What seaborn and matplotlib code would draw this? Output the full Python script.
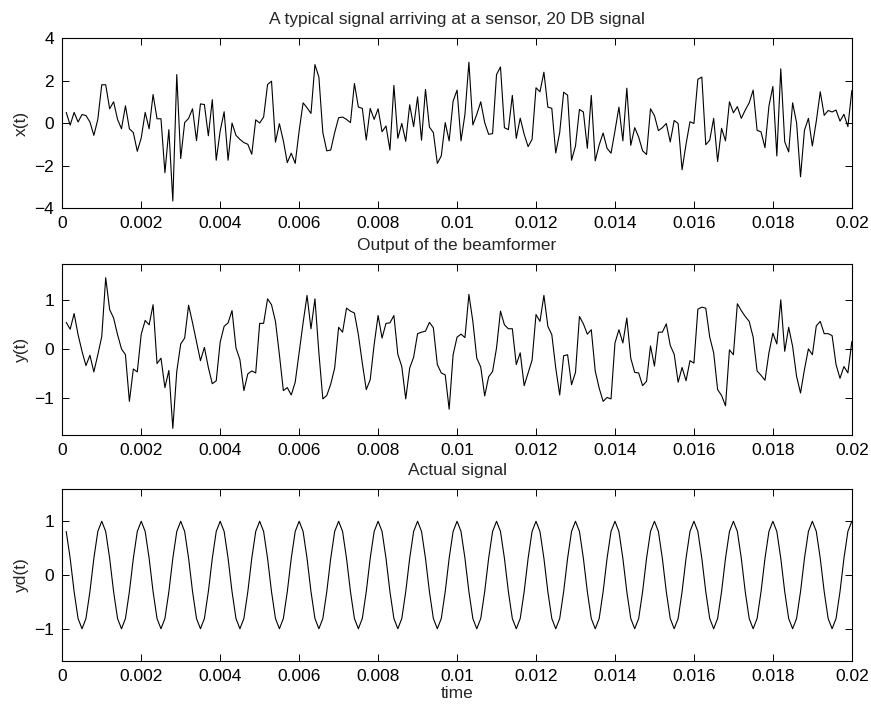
import numpy as np
import matplotlib
matplotlib.use("Agg")
import matplotlib.pyplot as plt
import seaborn as sns
from matplotlib.ticker import FuncFormatter

# sample times (200 samples, 0.1 ms apart)
t = np.linspace(0.0001, 0.02, 200)

# signal arriving at the sensor, 20 DB
x_sig = [
    0.5, -0.1, 0.5, 0.05, 0.4, 0.35, 0.05, -0.58, 0.17, 1.8,
    1.8, 0.67, 1.0, 0.17, -0.27, 0.81, -0.27, -0.45, -1.33, -0.7,
    0.5, -0.27, 1.34, 0.2, 0.2, -2.34, -0.31, -3.67, 2.28, -1.67,
    0.02, 0.22, 0.67, -0.83, 0.9, 0.87, -0.6, 1.1, -1.75, -0.37,
    0.53, -1.75, 0.0, -0.58, -0.77, -0.92, -1.0, -1.47, 0.15, 0.0,
    0.28, 1.81, 1.97, -0.9, -0.03, -0.84, -1.86, -1.42, -1.9, -0.37,
    0.95, 0.72, 0.45, 2.75, 2.16, -0.45, -1.31, -1.27, -0.45, 0.25,
    0.28, 0.17, 0.02, 1.86, 0.75, 0.69, -0.8, 0.69, 0.17, 0.67,
    -0.41, -0.14, -1.27, 1.77, -0.72, -0.02, -0.86, 0.86, -0.17, 1.23,
    -0.81, 1.58, -0.19, -0.45, -1.9, -1.55, 0.02, -0.84, 1.03, 1.55,
    -0.84, 0.41, 2.86, -0.09, 0.41, 1.0, 0.02, -0.53, -0.5, 2.28,
    2.64, -0.22, -0.31, 1.3, -0.72, 0.23, -0.53, -1.11, -0.77, 1.66,
    1.47, 2.39, 0.75, 0.69, -1.41, -0.45, 1.45, 1.31, -1.75, -1.08,
    0.64, 0.52, -1.19, 1.3, -1.78, -1.03, -0.47, -1.19, -1.42, -0.37,
    0.75, -0.84, 1.64, -1.05, -0.22, -0.66, -1.31, -1.48, 0.67, 0.35,
    -0.36, -0.22, -0.02, -0.89, 0.12, -0.02, -2.2, -1.0, 0.06, -0.02,
    2.06, 2.16, -1.02, -0.81, 0.22, -1.81, -0.25, -0.84, 1.0, 0.48,
    0.77, 0.22, 0.61, 0.95, 1.55, -0.34, -0.42, -1.16, 0.8, 1.72,
    -1.55, 2.55, -0.88, -1.36, 0.95, 0.02, -2.53, -0.34, 0.22, -1.08,
    0.09, 1.47, 0.36, 0.59, 0.52, 0.61, 0.09, 0.41, -0.17, 1.53,
]

# output of the beamformer
y_out = [
    0.55, 0.41, 0.73, 0.3, -0.04, -0.33, -0.12, -0.46, -0.11, 0.26,
    1.46, 0.81, 0.64, 0.3, 0.01, -0.11, -1.06, -0.4, -0.46, 0.31,
    0.59, 0.5, 0.91, -0.29, -0.18, -0.78, -0.43, -1.61, -0.45, 0.11,
    0.23, 0.9, 0.54, 0.15, -0.23, 0.04, -0.37, -0.7, -0.64, 0.15,
    0.47, 0.54, 0.79, 0.03, -0.21, -0.84, -0.5, -0.44, -0.48, 0.53,
    0.53, 1.03, 0.91, 0.57, -0.11, -0.84, -0.78, -0.93, -0.67, -0.07,
    0.54, 1.1, 0.42, 1.03, -0.07, -1.01, -0.94, -0.71, -0.38, 0.45,
    0.35, 0.84, 0.78, 0.74, 0.3, -0.28, -0.82, -0.62, 0.1, 0.69,
    0.23, 0.53, 0.54, 0.69, -0.1, -0.35, -1.01, -0.38, -0.16, 0.32,
    0.35, 0.37, 0.55, 0.44, -0.31, -0.48, -0.52, -1.22, -0.11, 0.25,
    0.31, 0.24, 1.12, 0.57, -0.18, -0.36, -0.95, -0.56, -0.45, 0.03,
    0.78, 0.5, 0.42, 0.42, -0.31, -0.07, -0.74, -0.48, -0.22, 0.71,
    0.57, 1.1, 0.47, 0.3, -0.38, -0.93, -0.13, -0.11, -0.72, -0.47,
    0.67, 0.52, 0.31, 0.4, -0.44, -0.79, -1.06, -0.98, -1.01, 0.13,
    0.4, 0.13, 0.64, -0.18, -0.47, -0.48, -0.74, -0.65, 0.07, -0.34,
    0.35, 0.35, 0.52, 0.08, -0.1, -0.67, -0.37, -0.64, -0.23, -0.28,
    0.82, 0.86, 0.84, 0.25, -0.07, -0.82, -0.94, -1.15, -0.01, -0.11,
    0.93, 0.79, 0.67, 0.57, 0.25, -0.44, -0.53, -0.63, -0.07, 0.33,
    0.11, 1.01, -0.04, 0.45, 0.06, -0.55, -0.89, -0.41, 0.01, -0.11,
    0.48, 0.57, 0.32, 0.32, 0.28, -0.31, -0.59, -0.35, -0.48, 0.16,
]

# actual (desired) signal
yd_sig = [
    0.81, 0.31, -0.31, -0.81, -1.0, -0.81, -0.31, 0.31, 0.81, 1.0,
    0.81, 0.31, -0.31, -0.81, -1.0, -0.81, -0.31, 0.31, 0.81, 1.0,
    0.81, 0.31, -0.31, -0.81, -1.0, -0.81, -0.31, 0.31, 0.81, 1.0,
    0.81, 0.31, -0.31, -0.81, -1.0, -0.81, -0.31, 0.31, 0.81, 1.0,
    0.81, 0.31, -0.31, -0.81, -1.0, -0.81, -0.31, 0.31, 0.81, 1.0,
    0.81, 0.31, -0.31, -0.81, -1.0, -0.81, -0.31, 0.31, 0.81, 1.0,
    0.81, 0.31, -0.31, -0.81, -1.0, -0.81, -0.31, 0.31, 0.81, 1.0,
    0.81, 0.31, -0.31, -0.81, -1.0, -0.81, -0.31, 0.31, 0.81, 1.0,
    0.81, 0.31, -0.31, -0.81, -1.0, -0.81, -0.31, 0.31, 0.81, 1.0,
    0.81, 0.31, -0.31, -0.81, -1.0, -0.81, -0.31, 0.31, 0.81, 1.0,
    0.81, 0.31, -0.31, -0.81, -1.0, -0.81, -0.31, 0.31, 0.81, 1.0,
    0.81, 0.31, -0.31, -0.81, -1.0, -0.81, -0.31, 0.31, 0.81, 1.0,
    0.81, 0.31, -0.31, -0.81, -1.0, -0.81, -0.31, 0.31, 0.81, 1.0,
    0.81, 0.31, -0.31, -0.81, -1.0, -0.81, -0.31, 0.31, 0.81, 1.0,
    0.81, 0.31, -0.31, -0.81, -1.0, -0.81, -0.31, 0.31, 0.81, 1.0,
    0.81, 0.31, -0.31, -0.81, -1.0, -0.81, -0.31, 0.31, 0.81, 1.0,
    0.81, 0.31, -0.31, -0.81, -1.0, -0.81, -0.31, 0.31, 0.81, 1.0,
    0.81, 0.31, -0.31, -0.81, -1.0, -0.81, -0.31, 0.31, 0.81, 1.0,
    0.81, 0.31, -0.31, -0.81, -1.0, -0.81, -0.31, 0.31, 0.81, 1.0,
    0.81, 0.31, -0.31, -0.81, -1.0, -0.81, -0.31, 0.31, 0.81, 1.0,
]

titles = ["A typical signal arriving at a sensor, 20 DB signal",
          "Output of the beamformer",
          "Actual signal"]
ylabels = ["x(t)", "y(t)", "yd(t)"]
yticks = [[-4, -2, 0, 2, 4], [-1, 0, 1], [-1, 0, 1]]
ylims = [(-4, 4), (-1.74, 1.74), (-1.6, 1.6)]
xticks = np.arange(0, 0.0201, 0.002)

sns.set_style("ticks")
plt.rcParams["font.family"] = ["Liberation Sans", "DejaVu Sans"]
fs = 12.5

fig = plt.figure(figsize=(8.71, 7.04), dpi=100)
positions = [
    [0.0715, 0.7045, 0.9065, 0.2415],
    [0.0715, 0.3825, 0.9065, 0.2425],
    [0.0715, 0.0611, 0.9065, 0.2443],
]

series = [x_sig, y_out, yd_sig]
for i, (pos, ys) in enumerate(zip(positions, series)):
    ax = fig.add_axes(pos)
    sns.lineplot(x=t, y=ys, ax=ax, color="black", linewidth=0.8)
    ax.set_xlim(0, 0.02)
    ax.set_ylim(*ylims[i])
    ax.set_xticks(xticks)
    ax.xaxis.set_major_formatter(FuncFormatter(lambda v, p: "%g" % round(v, 4)))
    ax.set_yticks(yticks[i])
    ax.tick_params(direction="in", length=5, width=0.7, top=True, right=True,
                   labelsize=fs, colors="black", pad=6)
    for s in ax.spines.values():
        s.set_linewidth(0.8)
        s.set_color("black")
    ax.set_title(titles[i], fontsize=fs, pad=10)
    ax.set_ylabel(ylabels[i], fontsize=fs, labelpad=4)
    if i == 2:
        ax.set_xlabel("time", fontsize=fs, labelpad=1)

fig.savefig("out.png", dpi=100)
